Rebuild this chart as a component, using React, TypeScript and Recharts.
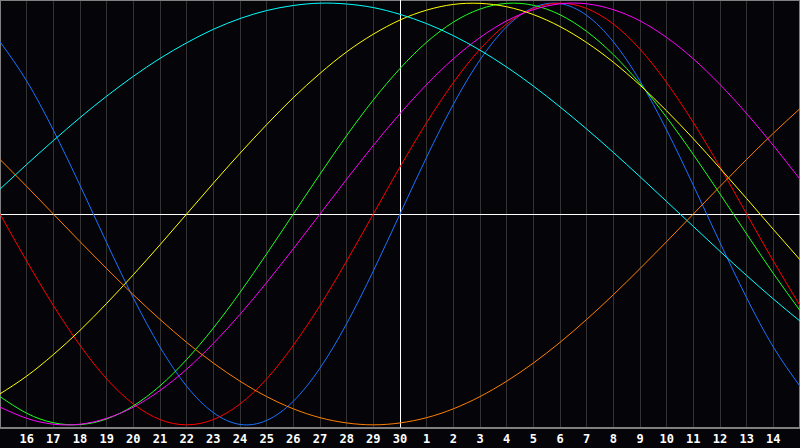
import React from 'react';
import {
  LineChart,
  Line,
  XAxis,
  YAxis,
  CartesianGrid,
  ReferenceLine,
  ReferenceArea,
} from 'recharts';

// day labels for positions 0..30 (one per grid line)
const dayLabels = [
  '15', '16', '17', '18', '19', '20', '21', '22', '23', '24', '25', '26', '27', '28', '29', '30',
  '1', '2', '3', '4', '5', '6', '7', '8', '9', '10', '11', '12', '13', '14', '15',
];

// cycle values, one per day (-1 .. 1)
const physical = [0.817, 0.631, 0.398, 0.136, -0.136, -0.398, -0.631, -0.817, -0.942, -0.998, -0.979, -0.888, -0.731, -0.520, -0.270, 0, 0.270, 0.520, 0.731, 0.888, 0.979, 0.998, 0.942, 0.817, 0.631, 0.398, 0.136, -0.136, -0.398, -0.631, -0.817];
const emotional = [0, -0.223, -0.434, -0.623, -0.782, -0.901, -0.975, -1, -0.975, -0.901, -0.782, -0.623, -0.434, -0.223, 0, 0.223, 0.434, 0.623, 0.782, 0.901, 0.975, 1, 0.975, 0.901, 0.782, 0.623, 0.434, 0.223, 0, -0.223, -0.434];
const intellectual = [-0.866, -0.945, -0.990, -0.999, -0.972, -0.910, -0.815, -0.690, -0.541, -0.372, -0.189, 0, 0.189, 0.372, 0.541, 0.690, 0.815, 0.910, 0.972, 0.999, 0.990, 0.945, 0.866, 0.756, 0.618, 0.458, 0.282, 0.095, -0.095, -0.282, -0.458];
const intuitive = [-0.916, -0.969, -0.997, -0.997, -0.969, -0.916, -0.837, -0.736, -0.614, -0.476, -0.325, -0.165, 0, 0.165, 0.325, 0.476, 0.614, 0.736, 0.837, 0.916, 0.969, 0.997, 0.997, 0.969, 0.916, 0.837, 0.736, 0.614, 0.476, 0.325, 0.165];
const aesthetic = [-0.853, -0.769, -0.667, -0.552, -0.424, -0.288, -0.146, 0, 0.146, 0.288, 0.424, 0.552, 0.667, 0.769, 0.853, 0.920, 0.967, 0.994, 0.999, 0.983, 0.946, 0.889, 0.813, 0.720, 0.611, 0.489, 0.357, 0.217, 0.073, -0.073, -0.217];
const awareness = [0.259, 0.131, 0, -0.131, -0.259, -0.383, -0.5, -0.609, -0.707, -0.793, -0.866, -0.924, -0.966, -0.991, -1, -0.991, -0.966, -0.924, -0.866, -0.793, -0.707, -0.609, -0.5, -0.383, -0.259, -0.131, 0, 0.131, 0.259, 0.383, 0.5];
const spiritual = [0.118, 0.235, 0.348, 0.457, 0.559, 0.653, 0.738, 0.812, 0.876, 0.927, 0.965, 0.989, 1.000, 0.996, 0.979, 0.947, 0.903, 0.846, 0.777, 0.697, 0.607, 0.508, 0.403, 0.292, 0.177, 0.059, -0.059, -0.177, -0.292, -0.403, -0.508];

const today = 15;
const tickDays = dayLabels.map((_, i) => i).filter((i) => i > 0 && i < dayLabels.length - 1);

const series = [
  { key: 'physical', color: '#1a72ff' },
  { key: 'emotional', color: '#ff0000' },
  { key: 'intellectual', color: '#1eff1e' },
  { key: 'intuitive', color: '#ff00ff' },
  { key: 'aesthetic', color: '#ffff00' },
  { key: 'spiritual', color: '#00ffff' },
  { key: 'awareness', color: '#ff7f00' },
];

const data = dayLabels.map((label, i) => ({
  t: i,
  label,
  physical: physical[i],
  emotional: emotional[i],
  intellectual: intellectual[i],
  intuitive: intuitive[i],
  aesthetic: aesthetic[i],
  awareness: awareness[i],
  spiritual: spiritual[i],
}));

const Y_MAX = 1.015;

const App = () => {
  return (
    <div
      style={{
        position: 'fixed',
        left: 0,
        top: 0,
        width: 800,
        height: 448,
        background: '#050509',
      }}
    >
      <LineChart
        width={800}
        height={448}
        data={data}
        margin={{ top: 0, right: 0, left: 0, bottom: 0 }}
      >
        <CartesianGrid
          vertical
          horizontal={false}
          stroke='#333333'
          shapeRendering='crispEdges'
        />
        <XAxis
          dataKey='t'
          type='number'
          domain={[0, 30]}
          ticks={tickDays}
          tickFormatter={(v) => dayLabels[v]}
          interval={0}
          height={20}
          tickLine={false}
          tickSize={0}
          tickMargin={6}
          axisLine={{ stroke: '#808080' }}
          tick={{
            fill: '#ffffff',
            fontSize: 12,
            fontWeight: 'bold',
            fontFamily: 'DejaVu Sans Mono',
          }}
        />
        <YAxis hide domain={[-Y_MAX, Y_MAX]} />
        <ReferenceArea
          x1={0}
          x2={30}
          y1={-Y_MAX}
          y2={Y_MAX}
          fill='none'
          stroke='#808080'
          strokeWidth={2}
        />
        <ReferenceLine x={today} stroke='#ffffff' shapeRendering='crispEdges' />
        <ReferenceLine y={0} stroke='#ffffff' shapeRendering='crispEdges' />
        {series.map((s) => (
          <Line
            key={s.key}
            type='natural'
            dataKey={s.key}
            stroke={s.color}
            strokeWidth={1}
            dot={false}
            activeDot={false}
            isAnimationActive={false}
          />
        ))}
      </LineChart>
    </div>
  );
};

export default App;
